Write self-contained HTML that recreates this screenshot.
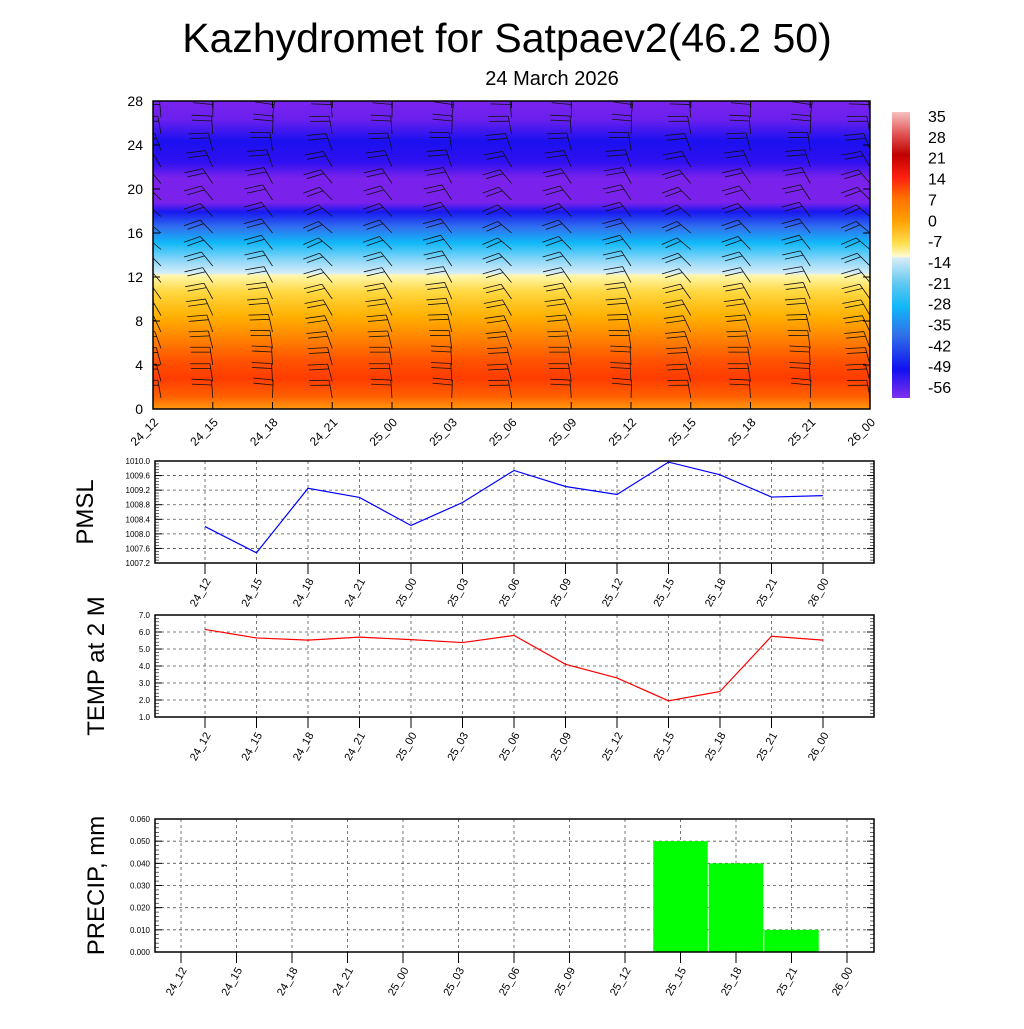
<!DOCTYPE html>
<html><head><meta charset="utf-8"><style>
body{margin:0;background:#fff;}
svg text{font-family:"Liberation Sans",sans-serif;}
</style></head><body>
<svg id="s" width="1024" height="1024" viewBox="0 0 1024 1024" xmlns="http://www.w3.org/2000/svg">
<defs>
<linearGradient id="field" x1="0" y1="0" x2="0" y2="1">
<stop offset="0" stop-color="#7a22ee"/><stop offset="0.06" stop-color="#6a20ee"/>
<stop offset="0.13" stop-color="#1a10f0"/><stop offset="0.2" stop-color="#3010f0"/>
<stop offset="0.25" stop-color="#7a22ec"/><stop offset="0.33" stop-color="#7a22ec"/>
<stop offset="0.36" stop-color="#1818f0"/><stop offset="0.41" stop-color="#3070f0"/>
<stop offset="0.46" stop-color="#10b8f8"/><stop offset="0.52" stop-color="#90d8f8"/>
<stop offset="0.56" stop-color="#d8eef8"/><stop offset="0.565" stop-color="#fff8b0"/>
<stop offset="0.62" stop-color="#ffd840"/><stop offset="0.7" stop-color="#ffb000"/>
<stop offset="0.76" stop-color="#ff8a00"/><stop offset="0.84" stop-color="#ff5400"/>
<stop offset="0.9" stop-color="#ff3c00"/><stop offset="0.96" stop-color="#ff6000"/>
<stop offset="1" stop-color="#ff9a10"/>
</linearGradient>
<linearGradient id="cbar" x1="0" y1="0" x2="0" y2="1">
<stop offset="0" stop-color="#f8c0c0"/><stop offset="0.08" stop-color="#e05050"/>
<stop offset="0.15" stop-color="#c00000"/><stop offset="0.23" stop-color="#ff2010"/>
<stop offset="0.3" stop-color="#ff7000"/><stop offset="0.38" stop-color="#ffa000"/>
<stop offset="0.46" stop-color="#ffe050"/><stop offset="0.505" stop-color="#fffbd0"/>
<stop offset="0.51" stop-color="#d8ecf8"/><stop offset="0.6" stop-color="#60c8f0"/>
<stop offset="0.68" stop-color="#10b8f8"/><stop offset="0.78" stop-color="#3070e8"/>
<stop offset="0.9" stop-color="#1010f0"/><stop offset="1" stop-color="#8030ee"/>
</linearGradient>
<clipPath id="clip"><rect x="153" y="101" width="717" height="308"/></clipPath>
</defs>
<text x="507" y="52" font-size="41" text-anchor="middle">Kazhydromet for Satpaev2(46.2 50)</text>
<text x="552" y="85" font-size="20" text-anchor="middle">24 March 2026</text>
<rect x="153" y="101" width="717" height="308" fill="url(#field)"/>
<g id="barbs" clip-path="url(#clip)"></g>
<rect x="153" y="101" width="717" height="308" fill="none" stroke="#000" stroke-width="1.5"/>
<rect x="892" y="112" width="18" height="286" fill="url(#cbar)"/>
<g id="g"></g>
</svg>
<script>
const times=["24_12","24_15","24_18","24_21","25_00","25_03","25_06","25_09","25_12","25_15","25_18","25_21","26_00"];
const hTicks=[0,4,8,12,16,20,24,28];
const cbarLabels=["35","28","21","14","7","0","-7","-14","-21","-28","-35","-42","-49","-56"];
const barbLevels=[1,2.5,4,5.5,7,8.5,10,11.5,13,14.5,16,17.5,19,20.5,22,23.5,25,26.5];
const barbAngles=[350,345,345,340,335,330,325,320,315,310,310,310,315,320,330,340,350,355];
const pmsl=[1008.2,1007.48,1009.25,1009.0,1008.23,1008.86,1009.74,1009.3,1009.08,1009.97,1009.62,1009.01,1009.05];
const pmslTicks=[1007.2,1007.6,1008.0,1008.4,1008.8,1009.2,1009.6,1010.0];
const temp=[6.15,5.65,5.52,5.7,5.55,5.38,5.8,4.1,3.3,1.95,2.5,5.75,5.52];
const tempTicks=[1,2,3,4,5,6,7];
const precip=[0,0,0,0,0,0,0,0,0,0.05,0.04,0.01,0];
const precipTicks=[0,0.01,0.02,0.03,0.04,0.05,0.06];
const NS="http://www.w3.org/2000/svg";
function mk(tag,attrs,parent,txt){const e=document.createElementNS(NS,tag);for(const k in attrs)e.setAttribute(k,attrs[k]);if(txt!==undefined)e.textContent=txt;parent.appendChild(e);return e;}
const G=document.getElementById('g');
const tx=i=>153+i*(717/12), ty=h=>409-h*(308/28);
hTicks.forEach(h=>{const t=mk('text',{x:143,y:ty(h)+5,'font-size':14,'text-anchor':'end'},G,String(h));


mk('line',{x1:153,x2:160,y1:ty(h),y2:ty(h),stroke:'#000'},G);mk('line',{x1:863,x2:870,y1:ty(h),y2:ty(h),stroke:'#000'},G);});
times.forEach((s,i)=>{mk('line',{x1:tx(i),x2:tx(i),y1:101,y2:108,stroke:'#000'},G);mk('line',{x1:tx(i),x2:tx(i),y1:402,y2:409,stroke:'#000'},G);
const t=mk('text',{x:0,y:0,'font-size':12,'text-anchor':'end',transform:`translate(${tx(i)+6},${423}) rotate(-45)`},G,s);

});
cbarLabels.forEach((s,i)=>{const t=mk('text',{x:928,y:122+i*20.85,'font-size':16},G,s);

});
const B=document.getElementById('barbs');
times.forEach((s,i)=>{barbLevels.forEach((h,j)=>{const x=tx(i)+(i===0?8:0),y=ty(h);
const a=(barbAngles[j]+(i%3)*6)*Math.PI/180,L=18;const ex=x+Math.sin(a)*L,ey=y-Math.cos(a)*L;
mk('line',{x1:x,y1:y,x2:ex,y2:ey,stroke:'#111','stroke-width':0.8},B);
for(let k=0;k<2;k++){const bx=x+Math.sin(a)*(L-k*5),by=y-Math.cos(a)*(L-k*5);const pa=a-Math.PI*0.45;
mk('line',{x1:bx,y1:by,x2:bx+Math.sin(pa)*20,y2:by-Math.cos(pa)*20*0.5,stroke:'#111','stroke-width':0.8},B);}});});
function panel(name,top,bot,ticks,fmt,vals,label,color,bar,x0,x1,lx,labx){
const xp=i=>x0+i*((x1-x0)/12), vmin=ticks[0],vmax=ticks[ticks.length-1];
const yp=v=>bot-(v-vmin)/(vmax-vmin)*(bot-top);
ticks.forEach(v=>{mk('line',{x1:155,x2:874,y1:yp(v),y2:yp(v),stroke:'#555','stroke-dasharray':'3,3','stroke-width':0.8},G);
const t=mk('text',{x:150,y:yp(v)+3,'font-size':8,'text-anchor':'end'},G,fmt(v));


mk('line',{x1:155,x2:162,y1:yp(v),y2:yp(v),stroke:'#000'},G);mk('line',{x1:867,x2:874,y1:yp(v),y2:yp(v),stroke:'#000'},G);});
for(let k=0;k<(ticks.length-1)*5;k++){const yy=bot-k*(bot-top)/((ticks.length-1)*5);mk('line',{x1:155,x2:159,y1:yy,y2:yy,stroke:'#000','stroke-width':0.6},G);mk('line',{x1:870,x2:874,y1:yy,y2:yy,stroke:'#000','stroke-width':0.6},G);}
times.forEach((s,i)=>{mk('line',{x1:xp(i),x2:xp(i),y1:top,y2:bot,stroke:'#555','stroke-dasharray':'3,3','stroke-width':0.8},G);
mk('line',{x1:xp(i),x2:xp(i),y1:bot,y2:bot+11,stroke:'#000'},G);
const t=mk('text',{x:0,y:0,'font-size':11,'text-anchor':'end',transform:`translate(${xp(i)+lx},${bot+18}) rotate(-60)`},G,s);

});
if(bar){vals.forEach((v,i)=>{if(v<=0)return;const w=(x1-x0)/12-1;const r=mk('rect',{x:xp(i)-w/2,y:yp(v),width:w,height:yp(0)-yp(v),fill:'#00ff00'},G);

});}
else{const p=mk('polyline',{points:vals.map((v,i)=>xp(i)+','+yp(v)).join(' '),fill:'none',stroke:color,'stroke-width':1.2},G);

}
mk('rect',{x:155,y:top,width:719,height:bot-top,fill:'none',stroke:'#000','stroke-width':1.5},G);
const yl=mk('text',{x:0,y:0,'font-size':24,'text-anchor':'middle',transform:`translate(${labx},${(top+bot)/2}) rotate(-90)`},G,label);

}
panel('pmsl',461,563,pmslTicks,v=>v.toFixed(1),pmsl,'PMSL','#0000ff',false,205,823,6,93);
panel('temp',615,717,tempTicks,v=>v.toFixed(1),temp,'TEMP at 2 M','#ff0000',false,205,823,6,104);
panel('precip',819,952,precipTicks,v=>v.toFixed(3),precip,'PRECIP, mm','',true,181,847,6,104);
</script>
</body></html>
